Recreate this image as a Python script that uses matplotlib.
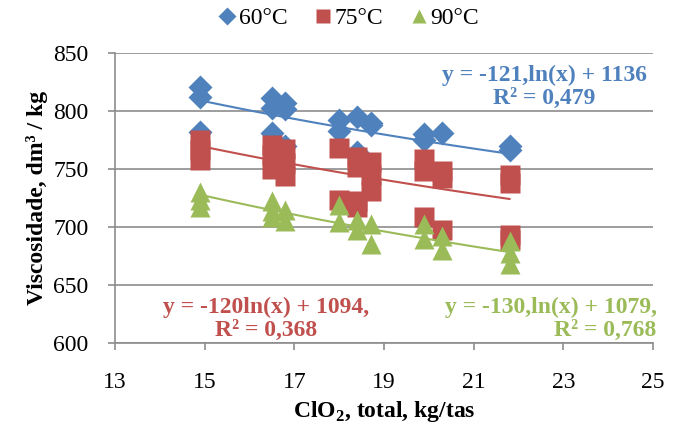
import numpy as np
import matplotlib
matplotlib.use("Agg")
import matplotlib.pyplot as plt

plt.rcParams['font.family'] = ['Liberation Serif', 'DejaVu Serif']
plt.rcParams['mathtext.fontset'] = 'custom'
plt.rcParams['mathtext.rm'] = 'Liberation Serif'
plt.rcParams['mathtext.bf'] = 'Liberation Serif:bold'

# Data (ClO2 total kg/tas vs viscosity dm3/kg)
x_60 = [14.9, 14.9, 14.9, 16.5, 16.5, 16.5, 16.8, 16.8, 16.8, 18.0, 18.0,
        18.4, 18.4, 18.7, 18.7, 19.9, 19.9, 20.3, 21.8, 21.8]
y_60 = [821, 812, 782, 811, 803, 781, 807, 802, 770, 792, 783,
        795, 765, 790, 788, 780, 775, 781, 770, 766]

x_75 = [14.9, 14.9, 14.9, 16.5, 16.5, 16.5, 16.8, 16.8, 16.8, 18.0, 18.0,
        18.4, 18.4, 18.4, 18.4, 18.7, 18.7, 18.7, 19.9, 19.9, 19.9,
        20.3, 20.3, 20.3, 21.8, 21.8, 21.8, 21.8]
y_75 = [775, 766, 758, 771, 762, 750, 767, 755, 744, 768, 723,
        760, 752, 722, 717, 756, 745, 731, 759, 748, 709,
        748, 742, 697, 745, 738, 693, 689]

x_90 = [14.9, 14.9, 14.9, 16.5, 16.5, 16.5, 16.8, 16.8, 18.0, 18.0,
        18.4, 18.4, 18.7, 18.7, 19.9, 19.9, 20.3, 20.3, 21.8, 21.8, 21.8]
y_90 = [730, 723, 717, 722, 714, 709, 715, 705, 719, 704,
        706, 697, 703, 685, 703, 690, 692, 680, 688, 678, 668]

# log trendlines as printed on the chart: y = a*ln(x) + b
fit_60 = (-121, 1136)
fit_75 = (-120, 1094)
fit_90 = (-130, 1079)

labels = ['60°C', '75°C', '90°C']
eq_60 = 'y = -121,ln(x) + 1136\nR² = 0,479'
eq_75 = 'y = -120ln(x) + 1094,\nR² = 0,368'
eq_90 = 'y = -130,ln(x) + 1079,\nR² = 0,768'

blue, red, green = '#4F81BD', '#C0504D', '#9BBB59'

fig = plt.figure(figsize=(6.79, 4.25), dpi=100)
ax = fig.add_axes([0.1694, 0.1929, 0.7923, 0.6824])

ax.plot(x_60, y_60, 'D', color=blue, ms=12.5, mec='none', label=labels[0], zorder=3)
ax.plot(x_75, y_75, 's', color=red, ms=14, mec='none', label=labels[1], zorder=4)
ax.plot(x_90, y_90, '^', color=green, ms=15, mec='none', label=labels[2], zorder=5)

for xs, fit, c in [(x_60, fit_60, blue), (x_75, fit_75, red), (x_90, fit_90, green)]:
    xx = np.linspace(min(xs), max(xs), 50)
    ax.plot(xx, fit[0] * np.log(xx) + fit[1], color=c, lw=1.5, zorder=6)

ax.set_xlim(13, 25)
ax.set_ylim(600, 850)
ax.set_xticks(range(13, 26, 2))
ax.set_yticks(range(600, 851, 50))
ax.yaxis.grid(True, color='#8c8c8c', lw=1.2)
ax.set_axisbelow(True)
for s in ['top', 'right']:
    ax.spines[s].set_visible(False)
for s in ['left', 'bottom']:
    ax.spines[s].set_color('#8c8c8c')
    ax.spines[s].set_linewidth(1.2)
ax.tick_params(colors='#8c8c8c', labelcolor='black', labelsize=17, length=5, width=1.2)
ax.tick_params(axis='x', pad=16)
ax.tick_params(axis='y', pad=14)

ax.set_xlabel(r'ClO$_\mathbf{2}$, total, kg/tas', fontsize=17, fontweight='bold', labelpad=4)
ax.set_ylabel('Viscosidade, dm³ / kg', fontsize=17, fontweight='bold', labelpad=4)

ax.text(22.58, 821, eq_60, color=blue, fontsize=17, fontweight='bold', ha='center', va='center',
        linespacing=1.1)
ax.text(16.37, 621, eq_75, color=red, fontsize=17, fontweight='bold', ha='center', va='center',
        linespacing=1.1)
ax.text(25.08, 621, eq_90, color=green, fontsize=17, fontweight='bold', ha='right', va='center',
        linespacing=1.1, multialignment='right')

fig.legend(loc='upper center', bbox_to_anchor=(0.515, 1.01), ncol=3, frameon=False,
           fontsize=17, markerscale=0.7, handlelength=0.6, handletextpad=0.2,
           columnspacing=1.2, borderaxespad=0.1)

fig.savefig('out.png', dpi=100)
